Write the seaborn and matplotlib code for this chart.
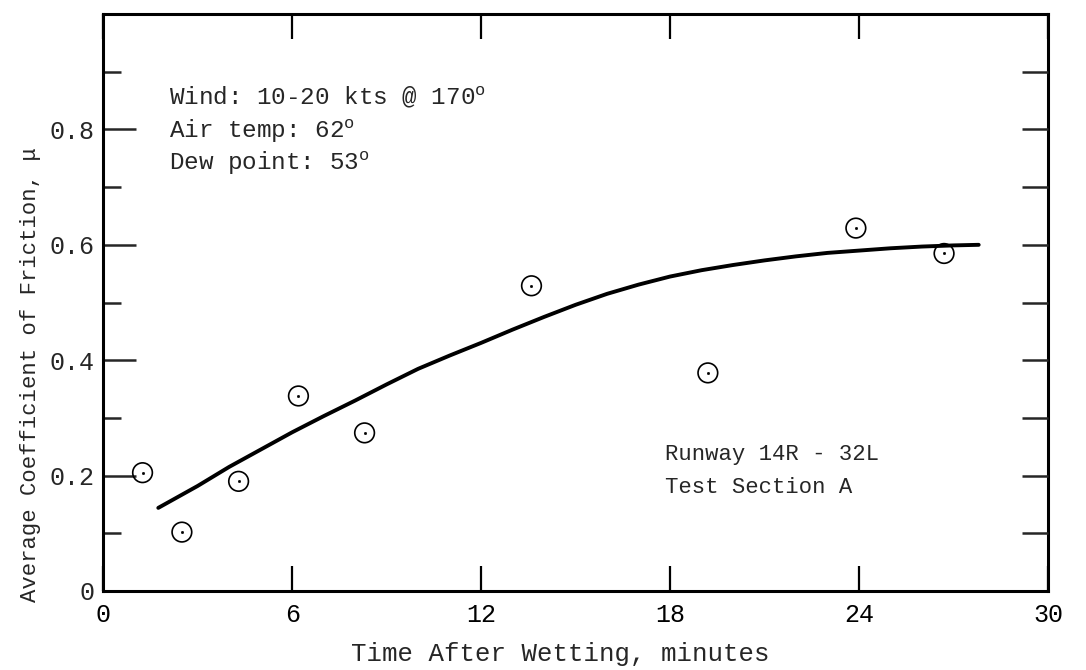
import numpy as np
import pandas as pd
import matplotlib
matplotlib.use("Agg")
import matplotlib.pyplot as plt
import seaborn as sns

# measured points (time after wetting, min / avg friction coefficient)
time_pts = [1.25, 2.5, 4.3, 6.2, 8.3, 13.6, 19.2, 23.9, 26.7]
mu_pts = [0.205, 0.102, 0.19, 0.338, 0.274, 0.529, 0.378, 0.629, 0.585]

# faired curve
curve_t = [1.75, 3, 4, 5, 6, 7, 8, 9, 10, 11, 12, 13, 14, 15, 16, 17, 18,
           19, 20, 21, 22, 23, 24, 25, 26, 27, 27.8]
curve_mu = [0.144, 0.182, 0.215, 0.245, 0.275, 0.303, 0.33, 0.358, 0.385,
            0.408, 0.43, 0.453, 0.475, 0.496, 0.515, 0.531, 0.545, 0.556,
            0.565, 0.573, 0.58, 0.586, 0.59, 0.594, 0.597, 0.599, 0.6]

x_ticks = [0, 6, 12, 18, 24, 30]
y_major = [0, 0.2, 0.4, 0.6, 0.8]
y_minor = [0.1, 0.3, 0.5, 0.7, 0.9]
y_right = [0.1, 0.2, 0.3, 0.4, 0.5, 0.6, 0.7, 0.8, 0.9]

weather_lines = ['Wind: 10-20 kts @ 170$^{\\mathrm{o}}$',
                 'Air temp: 62$^{\\mathrm{o}}$',
                 'Dew point: 53$^{\\mathrm{o}}$']
site_lines = ['Runway 14R - 32L', 'Test Section A']

sns.set_style("white")
plt.rcParams['font.family'] = ['Liberation Mono', 'DejaVu Sans Mono']
plt.rcParams['mathtext.fontset'] = 'custom'
plt.rcParams['mathtext.rm'] = 'Liberation Mono'

pts = pd.DataFrame({'t': time_pts, 'mu': mu_pts})
crv = pd.DataFrame({'t': curve_t, 'mu': curve_mu})

fig = plt.figure(figsize=(10.86, 6.7), dpi=100)
ax = fig.add_axes([0.095, 0.118, 0.87, 0.861])

sns.lineplot(data=crv, x='t', y='mu', ax=ax, color='black', linewidth=2.8)
sns.scatterplot(data=pts, x='t', y='mu', ax=ax, marker='o', s=200,
                facecolor='none', edgecolor='black', linewidth=1.2, zorder=3)
sns.scatterplot(data=pts, x='t', y='mu', ax=ax, marker='o', s=4,
                color='black', edgecolor='black', zorder=4)

ax.set_xlim(0, 30)
ax.set_ylim(0, 1.0)
ax.set_xticks(x_ticks)
ax.set_xticklabels([str(v) for v in x_ticks])
ax.set_yticks(y_major)
ax.set_yticklabels(['0', '0.2', '0.4', '0.6', '0.8'])
ax.set_yticks(y_minor, minor=True)

for s in ax.spines.values():
    s.set_linewidth(2.2)
    s.set_color('black')

ax.tick_params(axis='x', which='major', direction='in', top=True, bottom=True,
               length=18, width=1.6, labelsize=18, pad=9, colors='black')
ax.tick_params(axis='y', which='major', direction='in', left=True, right=False,
               length=24, width=1.8, labelsize=18, pad=6)
ax.tick_params(axis='y', which='minor', direction='in', left=True, right=False,
               length=13, width=1.8)

ax2 = ax.twinx()
ax2.set_ylim(0, 1.0)
ax2.set_yticks(y_right)
ax2.set_yticklabels([])
ax2.tick_params(axis='y', direction='in', length=19, width=1.8)
for s in ax2.spines.values():
    s.set_visible(False)

ax.set_xlabel('Time After Wetting, minutes', fontsize=18.5)
ax.xaxis.set_label_coords(0.484, -0.088)
ax.set_ylabel('Average Coefficient of Friction, \u03bc', fontsize=16)
ax.yaxis.set_label_coords(-0.066, 0.375)

for i, line in enumerate(weather_lines):
    ax.text(2.1, 0.854 - i * 0.056, line, fontsize=17.5, va='center', ha='left')
for i, line in enumerate(site_lines):
    ax.text(17.85, 0.236 - i * 0.057, line, fontsize=16, va='center', ha='left')

fig.savefig('out.png', dpi=100, facecolor='white')
